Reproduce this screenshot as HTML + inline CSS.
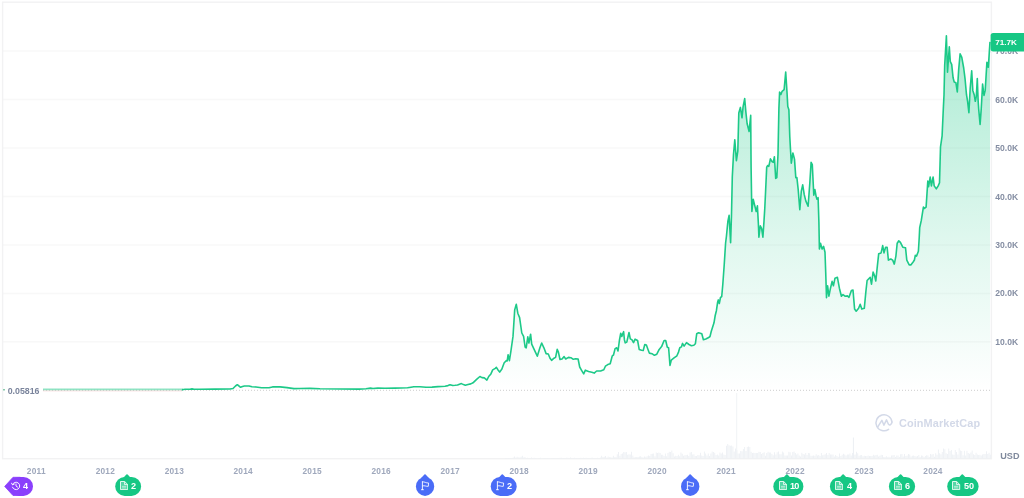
<!DOCTYPE html>
<html lang="en"><head><meta charset="utf-8"><title>BTC price chart</title>
<style>
html,body{margin:0;padding:0;background:#fff;}
body{width:1024px;height:498px;position:relative;overflow:hidden;font-family:"Liberation Sans",sans-serif;}
svg{position:absolute;left:0;top:0;display:block;}
.t{position:absolute;white-space:nowrap;line-height:1;font-weight:bold;}
.yl{color:#858EA3;font-size:8.6px;left:995.3px;}
.xl{color:#9FA8BC;font-size:8.3px;transform:translateX(-50%);letter-spacing:0.22px;margin-left:0.3px;}
.tag{position:absolute;left:990.6px;top:33px;width:34px;height:18.4px;}
.tag span{position:absolute;left:4.6px;top:6px;color:#fff;font-size:8.1px;font-weight:bold;line-height:1;}
.badge{position:absolute;top:476.9px;height:19px;border-radius:9.5px;color:#fff;font-size:8.3px;font-weight:bold;}
.badge .n{position:absolute;top:5.4px;line-height:1;transform:scaleX(1.1);transform-origin:0 50%;}
.badge svg{position:absolute;}
.green{background:#16C784;}
.blue{background:#4A6CF7;}
.purple{background:#8A3FFC;}
.ptr{position:absolute;top:-1.7px;width:5.4px;height:5.4px;transform:translateX(-50%) rotate(45deg);border-radius:1.3px 0 0 0;}
</style></head><body>
<svg width="1024" height="498" viewBox="0 0 1024 498">
<defs>
<linearGradient id="g" gradientUnits="userSpaceOnUse" x1="0" y1="35" x2="0" y2="390">
<stop offset="0" stop-color="#16C784" stop-opacity="0.36"/>
<stop offset="0.296" stop-color="#16C784" stop-opacity="0.245"/>
<stop offset="0.606" stop-color="#16C784" stop-opacity="0.125"/>
<stop offset="0.803" stop-color="#16C784" stop-opacity="0.065"/>
<stop offset="1" stop-color="#16C784" stop-opacity="0"/>
</linearGradient>
</defs>
<line x1="3" x2="991" y1="51.1" y2="51.1" stroke="#F8F8F8" stroke-width="1.5"/>
<line x1="3" x2="991" y1="99.5" y2="99.5" stroke="#F8F8F8" stroke-width="1.5"/>
<line x1="3" x2="991" y1="148" y2="148" stroke="#F8F8F8" stroke-width="1.5"/>
<line x1="3" x2="991" y1="196.5" y2="196.5" stroke="#F8F8F8" stroke-width="1.5"/>
<line x1="3" x2="991" y1="244.9" y2="244.9" stroke="#F8F8F8" stroke-width="1.5"/>
<line x1="3" x2="991" y1="293.4" y2="293.4" stroke="#F8F8F8" stroke-width="1.5"/>
<line x1="3" x2="991" y1="341.8" y2="341.8" stroke="#F8F8F8" stroke-width="1.5"/>
<rect x="2.6" y="2.2" width="988.8" height="456.5" fill="none" stroke="#F2F2F3" stroke-width="1.4"/>
<path d="M505 458.7 v-0.6 h0.9 v0.6 zM506.3 458.7 v-0.5 h0.9 v0.5 zM507.6 458.7 v-0.8 h0.9 v0.8 zM508.9 458.7 v-0.4 h0.9 v0.4 zM510.2 458.7 v-0.7 h0.9 v0.7 zM511.5 458.7 v-0.6 h0.9 v0.6 zM512.8 458.7 v-1.2 h0.9 v1.2 zM514.1 458.7 v-2.2 h0.9 v2.2 zM515.4 458.7 v-1.2 h0.9 v1.2 zM516.7 458.7 v-2 h0.9 v2 zM518 458.7 v-1.2 h0.9 v1.2 zM519.3 458.7 v-1.3 h0.9 v1.3 zM520.6 458.7 v-2 h0.9 v2 zM521.9 458.7 v-2.9 h0.9 v2.9 zM523.2 458.7 v-1.3 h0.9 v1.3 zM524.5 458.7 v-1.6 h0.9 v1.6 zM525.8 458.7 v-0.8 h0.9 v0.8 zM527.1 458.7 v-1 h0.9 v1 zM528.4 458.7 v-0.8 h0.9 v0.8 zM529.7 458.7 v-0.6 h0.9 v0.6 zM531 458.7 v-1.1 h0.9 v1.1 zM532.3 458.7 v-0.4 h0.9 v0.4 zM533.6 458.7 v-1 h0.9 v1 zM534.9 458.7 v-0.6 h0.9 v0.6 zM536.2 458.7 v-0.5 h0.9 v0.5 zM537.5 458.7 v-0.4 h0.9 v0.4 zM538.8 458.7 v-0.6 h0.9 v0.6 zM540.1 458.7 v-0.9 h0.9 v0.9 zM541.4 458.7 v-0.5 h0.9 v0.5 zM542.7 458.7 v-0.8 h0.9 v0.8 zM544 458.7 v-0.8 h0.9 v0.8 zM545.3 458.7 v-0.6 h0.9 v0.6 zM546.6 458.7 v-0.8 h0.9 v0.8 zM547.9 458.7 v-0.4 h0.9 v0.4 zM549.2 458.7 v-0.4 h0.9 v0.4 zM550.5 458.7 v-0.5 h0.9 v0.5 zM551.8 458.7 v-0.8 h0.9 v0.8 zM553.1 458.7 v-0.7 h0.9 v0.7 zM554.4 458.7 v-0.6 h0.9 v0.6 zM555.7 458.7 v-0.8 h0.9 v0.8 zM557 458.7 v-0.7 h0.9 v0.7 zM558.3 458.7 v-0.6 h0.9 v0.6 zM559.6 458.7 v-0.9 h0.9 v0.9 zM560.9 458.7 v-0.9 h0.9 v0.9 zM562.2 458.7 v-0.5 h0.9 v0.5 zM563.5 458.7 v-0.8 h0.9 v0.8 zM564.8 458.7 v-0.7 h0.9 v0.7 zM566.1 458.7 v-1 h0.9 v1 zM567.4 458.7 v-0.9 h0.9 v0.9 zM568.7 458.7 v-0.6 h0.9 v0.6 zM570 458.7 v-1.1 h0.9 v1.1 zM571.3 458.7 v-0.4 h0.9 v0.4 zM572.6 458.7 v-0.7 h0.9 v0.7 zM573.9 458.7 v-0.9 h0.9 v0.9 zM575.2 458.7 v-0.5 h0.9 v0.5 zM576.5 458.7 v-0.7 h0.9 v0.7 zM577.8 458.7 v-0.4 h0.9 v0.4 zM579.1 458.7 v-0.8 h0.9 v0.8 zM580.4 458.7 v-0.9 h0.9 v0.9 zM581.7 458.7 v-0.8 h0.9 v0.8 zM583 458.7 v-1 h0.9 v1 zM584.3 458.7 v-0.6 h0.9 v0.6 zM585.6 458.7 v-0.9 h0.9 v0.9 zM586.9 458.7 v-0.8 h0.9 v0.8 zM588.2 458.7 v-0.8 h0.9 v0.8 zM589.5 458.7 v-0.7 h0.9 v0.7 zM590.8 458.7 v-1 h0.9 v1 zM592.1 458.7 v-1 h0.9 v1 zM593.4 458.7 v-0.7 h0.9 v0.7 zM594.7 458.7 v-0.8 h0.9 v0.8 zM596 458.7 v-0.4 h0.9 v0.4 zM597.3 458.7 v-0.9 h0.9 v0.9 zM598.6 458.7 v-0.8 h0.9 v0.8 zM599.9 458.7 v-1.1 h0.9 v1.1 zM601.2 458.7 v-3 h0.9 v3 zM602.5 458.7 v-1.8 h0.9 v1.8 zM603.8 458.7 v-2 h0.9 v2 zM605.1 458.7 v-2.6 h0.9 v2.6 zM606.4 458.7 v-1.2 h0.9 v1.2 zM607.7 458.7 v-2.2 h0.9 v2.2 zM609 458.7 v-1.5 h0.9 v1.5 zM610.3 458.7 v-1.4 h0.9 v1.4 zM611.6 458.7 v-1.3 h0.9 v1.3 zM612.9 458.7 v-2.9 h0.9 v2.9 zM614.2 458.7 v-1.4 h0.9 v1.4 zM615.5 458.7 v-1.7 h0.9 v1.7 zM616.8 458.7 v-4.4 h0.9 v4.4 zM618.1 458.7 v-6.8 h0.9 v6.8 zM619.4 458.7 v-2.9 h0.9 v2.9 zM620.7 458.7 v-4.7 h0.9 v4.7 zM622 458.7 v-5.2 h0.9 v5.2 zM623.3 458.7 v-6.8 h0.9 v6.8 zM624.6 458.7 v-6.5 h0.9 v6.5 zM625.9 458.7 v-6.8 h0.9 v6.8 zM627.2 458.7 v-3.9 h0.9 v3.9 zM628.5 458.7 v-4.5 h0.9 v4.5 zM629.8 458.7 v-4.3 h0.9 v4.3 zM631.1 458.7 v-6.9 h0.9 v6.9 zM632.4 458.7 v-3.3 h0.9 v3.3 zM633.7 458.7 v-1.5 h0.9 v1.5 zM635 458.7 v-1.5 h0.9 v1.5 zM636.3 458.7 v-1.6 h0.9 v1.6 zM637.6 458.7 v-1.7 h0.9 v1.7 zM638.9 458.7 v-2.2 h0.9 v2.2 zM640.2 458.7 v-2.5 h0.9 v2.5 zM641.5 458.7 v-1.7 h0.9 v1.7 zM642.8 458.7 v-1.1 h0.9 v1.1 zM644.1 458.7 v-2.1 h0.9 v2.1 zM645.4 458.7 v-2 h0.9 v2 zM646.7 458.7 v-2.4 h0.9 v2.4 zM648 458.7 v-3.3 h0.9 v3.3 zM649.3 458.7 v-2.7 h0.9 v2.7 zM650.6 458.7 v-4.6 h0.9 v4.6 zM651.9 458.7 v-5 h0.9 v5 zM653.2 458.7 v-5.3 h0.9 v5.3 zM654.5 458.7 v-2.5 h0.9 v2.5 zM655.8 458.7 v-6.3 h0.9 v6.3 zM657.1 458.7 v-5.8 h0.9 v5.8 zM658.4 458.7 v-6.2 h0.9 v6.2 zM659.7 458.7 v-5.8 h0.9 v5.8 zM661 458.7 v-4 h0.9 v4 zM662.3 458.7 v-4 h0.9 v4 zM663.6 458.7 v-2.7 h0.9 v2.7 zM664.9 458.7 v-5.1 h0.9 v5.1 zM666.2 458.7 v-2.5 h0.9 v2.5 zM667.5 458.7 v-5.6 h0.9 v5.6 zM668.8 458.7 v-7 h0.9 v7 zM670.1 458.7 v-6.6 h0.9 v6.6 zM671.4 458.7 v-8.3 h0.9 v8.3 zM672.7 458.7 v-5.5 h0.9 v5.5 zM674 458.7 v-2.3 h0.9 v2.3 zM675.3 458.7 v-2.9 h0.9 v2.9 zM676.6 458.7 v-2.7 h0.9 v2.7 zM677.9 458.7 v-3.9 h0.9 v3.9 zM679.2 458.7 v-2.4 h0.9 v2.4 zM680.5 458.7 v-6.2 h0.9 v6.2 zM681.8 458.7 v-5 h0.9 v5 zM683.1 458.7 v-2.9 h0.9 v2.9 zM684.4 458.7 v-3.4 h0.9 v3.4 zM685.7 458.7 v-3.8 h0.9 v3.8 zM687 458.7 v-3.9 h0.9 v3.9 zM688.3 458.7 v-2.8 h0.9 v2.8 zM689.6 458.7 v-6.1 h0.9 v6.1 zM690.9 458.7 v-6.7 h0.9 v6.7 zM692.2 458.7 v-4.3 h0.9 v4.3 zM693.5 458.7 v-4.4 h0.9 v4.4 zM694.8 458.7 v-2.6 h0.9 v2.6 zM696.1 458.7 v-2.7 h0.9 v2.7 zM697.4 458.7 v-3.8 h0.9 v3.8 zM698.7 458.7 v-3.4 h0.9 v3.4 zM700 458.7 v-6 h0.9 v6 zM701.3 458.7 v-3.3 h0.9 v3.3 zM702.6 458.7 v-2.6 h0.9 v2.6 zM703.9 458.7 v-7.2 h0.9 v7.2 zM705.2 458.7 v-5.1 h0.9 v5.1 zM706.5 458.7 v-3.2 h0.9 v3.2 zM707.8 458.7 v-5.2 h0.9 v5.2 zM709.1 458.7 v-2.6 h0.9 v2.6 zM710.4 458.7 v-5.1 h0.9 v5.1 zM711.7 458.7 v-7.3 h0.9 v7.3 zM713 458.7 v-6.7 h0.9 v6.7 zM714.3 458.7 v-5.9 h0.9 v5.9 zM715.6 458.7 v-3.8 h0.9 v3.8 zM716.9 458.7 v-4.3 h0.9 v4.3 zM718.2 458.7 v-3.3 h0.9 v3.3 zM719.5 458.7 v-6.3 h0.9 v6.3 zM720.8 458.7 v-5.1 h0.9 v5.1 zM722.1 458.7 v-6.3 h0.9 v6.3 zM723.4 458.7 v-4.1 h0.9 v4.1 zM724.7 458.7 v-3.6 h0.9 v3.6 zM726 458.7 v-13 h0.9 v13 zM727.3 458.7 v-14.7 h0.9 v14.7 zM728.6 458.7 v-13.4 h0.9 v13.4 zM729.9 458.7 v-12.9 h0.9 v12.9 zM731.2 458.7 v-13.1 h0.9 v13.1 zM732.5 458.7 v-12.3 h0.9 v12.3 zM733.8 458.7 v-7.2 h0.9 v7.2 zM735.1 458.7 v-10.1 h0.9 v10.1 zM736.4 458.7 v-8.5 h0.9 v8.5 zM737.7 458.7 v-5.2 h0.9 v5.2 zM739 458.7 v-5.2 h0.9 v5.2 zM740.3 458.7 v-7.7 h0.9 v7.7 zM741.6 458.7 v-7.5 h0.9 v7.5 zM742.9 458.7 v-9.7 h0.9 v9.7 zM744.2 458.7 v-11.8 h0.9 v11.8 zM745.5 458.7 v-7.7 h0.9 v7.7 zM746.8 458.7 v-11.6 h0.9 v11.6 zM748.1 458.7 v-12.1 h0.9 v12.1 zM749.4 458.7 v-11.8 h0.9 v11.8 zM750.7 458.7 v-7 h0.9 v7 zM752 458.7 v-5.8 h0.9 v5.8 zM753.3 458.7 v-5.9 h0.9 v5.9 zM754.6 458.7 v-5.6 h0.9 v5.6 zM755.9 458.7 v-5.7 h0.9 v5.7 zM757.2 458.7 v-5.6 h0.9 v5.6 zM758.5 458.7 v-6.9 h0.9 v6.9 zM759.8 458.7 v-6.6 h0.9 v6.6 zM761.1 458.7 v-4.8 h0.9 v4.8 zM762.4 458.7 v-5.7 h0.9 v5.7 zM763.7 458.7 v-6.4 h0.9 v6.4 zM765 458.7 v-2.9 h0.9 v2.9 zM766.3 458.7 v-5.7 h0.9 v5.7 zM767.6 458.7 v-7 h0.9 v7 zM768.9 458.7 v-6.3 h0.9 v6.3 zM770.2 458.7 v-6.2 h0.9 v6.2 zM771.5 458.7 v-4.8 h0.9 v4.8 zM772.8 458.7 v-3.4 h0.9 v3.4 zM774.1 458.7 v-6.4 h0.9 v6.4 zM775.4 458.7 v-4.1 h0.9 v4.1 zM776.7 458.7 v-6.4 h0.9 v6.4 zM778 458.7 v-7.3 h0.9 v7.3 zM779.3 458.7 v-4.4 h0.9 v4.4 zM780.6 458.7 v-4.5 h0.9 v4.5 zM781.9 458.7 v-7.2 h0.9 v7.2 zM783.2 458.7 v-6.1 h0.9 v6.1 zM784.5 458.7 v-3.3 h0.9 v3.3 zM785.8 458.7 v-3.1 h0.9 v3.1 zM787.1 458.7 v-3.2 h0.9 v3.2 zM788.4 458.7 v-7 h0.9 v7 zM789.7 458.7 v-6.5 h0.9 v6.5 zM791 458.7 v-3.2 h0.9 v3.2 zM792.3 458.7 v-6.6 h0.9 v6.6 zM793.6 458.7 v-7.3 h0.9 v7.3 zM794.9 458.7 v-5.7 h0.9 v5.7 zM796.2 458.7 v-4.2 h0.9 v4.2 zM797.5 458.7 v-5.2 h0.9 v5.2 zM798.8 458.7 v-3.1 h0.9 v3.1 zM800.1 458.7 v-2.1 h0.9 v2.1 zM801.4 458.7 v-6 h0.9 v6 zM802.7 458.7 v-4.7 h0.9 v4.7 zM804 458.7 v-4.2 h0.9 v4.2 zM805.3 458.7 v-5.8 h0.9 v5.8 zM806.6 458.7 v-3.8 h0.9 v3.8 zM807.9 458.7 v-5.6 h0.9 v5.6 zM809.2 458.7 v-5.4 h0.9 v5.4 zM810.5 458.7 v-2.9 h0.9 v2.9 zM811.8 458.7 v-3 h0.9 v3 zM813.1 458.7 v-3.2 h0.9 v3.2 zM814.4 458.7 v-3 h0.9 v3 zM815.7 458.7 v-4.4 h0.9 v4.4 zM817 458.7 v-3.1 h0.9 v3.1 zM818.3 458.7 v-3.7 h0.9 v3.7 zM819.6 458.7 v-2.6 h0.9 v2.6 zM820.9 458.7 v-5.7 h0.9 v5.7 zM822.2 458.7 v-3.5 h0.9 v3.5 zM823.5 458.7 v-3.9 h0.9 v3.9 zM824.8 458.7 v-4.4 h0.9 v4.4 zM826.1 458.7 v-5.7 h0.9 v5.7 zM827.4 458.7 v-3.7 h0.9 v3.7 zM828.7 458.7 v-5.7 h0.9 v5.7 zM830 458.7 v-4.1 h0.9 v4.1 zM831.3 458.7 v-4.2 h0.9 v4.2 zM832.6 458.7 v-4.1 h0.9 v4.1 zM833.9 458.7 v-2.1 h0.9 v2.1 zM835.2 458.7 v-3.8 h0.9 v3.8 zM836.5 458.7 v-2.8 h0.9 v2.8 zM837.8 458.7 v-2 h0.9 v2 zM839.1 458.7 v-5.3 h0.9 v5.3 zM840.4 458.7 v-2.7 h0.9 v2.7 zM841.7 458.7 v-3.9 h0.9 v3.9 zM843 458.7 v-5 h0.9 v5 zM844.3 458.7 v-4.3 h0.9 v4.3 zM845.6 458.7 v-3.3 h0.9 v3.3 zM846.9 458.7 v-4.1 h0.9 v4.1 zM848.2 458.7 v-4.3 h0.9 v4.3 zM849.5 458.7 v-5.2 h0.9 v5.2 zM850.8 458.7 v-3.3 h0.9 v3.3 zM852.1 458.7 v-5.7 h0.9 v5.7 zM853.4 458.7 v-4 h0.9 v4 zM854.7 458.7 v-4.2 h0.9 v4.2 zM856 458.7 v-6.9 h0.9 v6.9 zM857.3 458.7 v-5.4 h0.9 v5.4 zM858.6 458.7 v-2.9 h0.9 v2.9 zM859.9 458.7 v-3.4 h0.9 v3.4 zM861.2 458.7 v-3.8 h0.9 v3.8 zM862.5 458.7 v-2.5 h0.9 v2.5 zM863.8 458.7 v-3 h0.9 v3 zM865.1 458.7 v-2.7 h0.9 v2.7 zM866.4 458.7 v-2.7 h0.9 v2.7 zM867.7 458.7 v-3.2 h0.9 v3.2 zM869 458.7 v-2.6 h0.9 v2.6 zM870.3 458.7 v-2.8 h0.9 v2.8 zM871.6 458.7 v-2.6 h0.9 v2.6 zM872.9 458.7 v-3.9 h0.9 v3.9 zM874.2 458.7 v-3.2 h0.9 v3.2 zM875.5 458.7 v-3.7 h0.9 v3.7 zM876.8 458.7 v-3.9 h0.9 v3.9 zM878.1 458.7 v-2.1 h0.9 v2.1 zM879.4 458.7 v-2.9 h0.9 v2.9 zM880.7 458.7 v-3.9 h0.9 v3.9 zM882 458.7 v-3.6 h0.9 v3.6 zM883.3 458.7 v-1.7 h0.9 v1.7 zM884.6 458.7 v-1.7 h0.9 v1.7 zM885.9 458.7 v-2.5 h0.9 v2.5 zM887.2 458.7 v-1.5 h0.9 v1.5 zM888.5 458.7 v-2 h0.9 v2 zM889.8 458.7 v-1.5 h0.9 v1.5 zM891.1 458.7 v-3.2 h0.9 v3.2 zM892.4 458.7 v-3.5 h0.9 v3.5 zM893.7 458.7 v-3.8 h0.9 v3.8 zM895 458.7 v-1.8 h0.9 v1.8 zM896.3 458.7 v-3.3 h0.9 v3.3 zM897.6 458.7 v-3.1 h0.9 v3.1 zM898.9 458.7 v-1.7 h0.9 v1.7 zM900.2 458.7 v-4.4 h0.9 v4.4 zM901.5 458.7 v-4.6 h0.9 v4.6 zM902.8 458.7 v-2.3 h0.9 v2.3 zM904.1 458.7 v-4.6 h0.9 v4.6 zM905.4 458.7 v-2.8 h0.9 v2.8 zM906.7 458.7 v-3.1 h0.9 v3.1 zM908 458.7 v-4.7 h0.9 v4.7 zM909.3 458.7 v-4.2 h0.9 v4.2 zM910.6 458.7 v-2.1 h0.9 v2.1 zM911.9 458.7 v-2.9 h0.9 v2.9 zM913.2 458.7 v-3.2 h0.9 v3.2 zM914.5 458.7 v-2.6 h0.9 v2.6 zM915.8 458.7 v-2.2 h0.9 v2.2 zM917.1 458.7 v-2.6 h0.9 v2.6 zM918.4 458.7 v-3.8 h0.9 v3.8 zM919.7 458.7 v-1.6 h0.9 v1.6 zM921 458.7 v-3.3 h0.9 v3.3 zM922.3 458.7 v-3 h0.9 v3 zM923.6 458.7 v-1.6 h0.9 v1.6 zM924.9 458.7 v-2.6 h0.9 v2.6 zM926.2 458.7 v-3.5 h0.9 v3.5 zM927.5 458.7 v-3.2 h0.9 v3.2 zM928.8 458.7 v-1.8 h0.9 v1.8 zM930.1 458.7 v-4.7 h0.9 v4.7 zM931.4 458.7 v-4.1 h0.9 v4.1 zM932.7 458.7 v-4.6 h0.9 v4.6 zM934 458.7 v-1.9 h0.9 v1.9 zM935.3 458.7 v-5.5 h0.9 v5.5 zM936.6 458.7 v-3.9 h0.9 v3.9 zM937.9 458.7 v-9.2 h0.9 v9.2 zM939.2 458.7 v-5.5 h0.9 v5.5 zM940.5 458.7 v-4.5 h0.9 v4.5 zM941.8 458.7 v-6.6 h0.9 v6.6 zM943.1 458.7 v-10.2 h0.9 v10.2 zM944.4 458.7 v-9.5 h0.9 v9.5 zM945.7 458.7 v-5.5 h0.9 v5.5 zM947 458.7 v-4.7 h0.9 v4.7 zM948.3 458.7 v-10.2 h0.9 v10.2 zM949.6 458.7 v-7.7 h0.9 v7.7 zM950.9 458.7 v-8.6 h0.9 v8.6 zM952.2 458.7 v-4.2 h0.9 v4.2 zM953.5 458.7 v-4 h0.9 v4 zM954.8 458.7 v-8.6 h0.9 v8.6 zM956.1 458.7 v-6.7 h0.9 v6.7 zM957.4 458.7 v-4.1 h0.9 v4.1 zM958.7 458.7 v-10.4 h0.9 v10.4 zM960 458.7 v-8.2 h0.9 v8.2 zM961.3 458.7 v-7.6 h0.9 v7.6 zM962.6 458.7 v-3.4 h0.9 v3.4 zM963.9 458.7 v-7.9 h0.9 v7.9 zM965.2 458.7 v-3.3 h0.9 v3.3 zM966.5 458.7 v-8 h0.9 v8 zM967.8 458.7 v-5.6 h0.9 v5.6 zM969.1 458.7 v-4.9 h0.9 v4.9 zM970.4 458.7 v-6.2 h0.9 v6.2 zM971.7 458.7 v-8.3 h0.9 v8.3 zM973 458.7 v-4.5 h0.9 v4.5 zM974.3 458.7 v-3.7 h0.9 v3.7 zM975.6 458.7 v-6 h0.9 v6 zM976.9 458.7 v-4.3 h0.9 v4.3 zM978.2 458.7 v-3.6 h0.9 v3.6 zM979.5 458.7 v-3.9 h0.9 v3.9 zM980.8 458.7 v-3.2 h0.9 v3.2 zM982.1 458.7 v-4.1 h0.9 v4.1 zM983.4 458.7 v-4.8 h0.9 v4.8 zM984.7 458.7 v-4.7 h0.9 v4.7 zM986 458.7 v-7.4 h0.9 v7.4 zM987.3 458.7 v-4.6 h0.9 v4.6 zM988.6 458.7 v-5.9 h0.9 v5.9 zM989.9 458.7 v-4 h0.9 v4 z" fill="#EDF0F4"/>
<rect x="736.2" y="393" width="1" height="65" fill="#F1F3F6"/>
<rect x="852.9" y="437.5" width="1" height="21" fill="#ECEFF3"/>
<line x1="182" x2="991" y1="390.3" y2="390.3" stroke="#CDCDCD" stroke-width="1" stroke-dasharray="1 2"/>
<path d="M42.6 389.8 L120 389.8 L182 389.7 L185 389.3 L190 389.2 L192 388.9 L194 389.2 L200 389.2 L215 389.1 L230 389 L233 388.5 L235.5 386 L237.3 384.7 L239 386 L240.5 387.3 L242.5 386.5 L244.4 386 L249 386 L252 386.8 L256 387 L261.6 387.8 L269 387.8 L272.5 386.9 L280 386.9 L287 387.6 L294 388.6 L300 388.5 L310 388.4 L320 388.8 L340 389 L359 389.1 L366 388.7 L370.5 388.1 L373 388.5 L377.8 388.1 L385 388.3 L395 388.1 L407.5 387.8 L411 387.2 L413.8 386.7 L420 386.7 L426 387.3 L432 387.1 L438 386.6 L445 386.2 L448 385.6 L450 384.7 L452.8 385.5 L455 385.3 L457.5 385 L459.5 384.2 L461.4 383.6 L463.5 384.6 L465.3 385.3 L468 384.6 L470.8 383.9 L473 382.8 L476.6 379.4 L479.9 376.5 L482 377.6 L484.3 377.9 L486.9 380.1 L488.7 376.5 L490.9 373.9 L492.7 369.9 L495.3 368.4 L496.4 367.3 L498 369.9 L499.7 372.1 L501.9 369 L504.2 362.8 L506.4 360.6 L507.2 361 L508.1 354.7 L509.4 360.6 L510.8 351.8 L513 336.4 L514.7 309.9 L516.3 304.3 L517.8 313.2 L519.6 317.6 L521.8 333 L523.6 336.4 L525.1 347 L526.2 347.8 L527.8 336.8 L528.9 343 L530.6 334.2 L531.7 344.1 L534 349.2 L537.3 356.2 L539.9 347.8 L541.7 343 L543.9 347.8 L546.1 353.6 L548.3 354 L550 358.2 L551.6 360.3 L554 358.2 L555.6 357.4 L557.2 349.4 L558.4 352.1 L560 359.5 L562 359 L564.1 356.6 L565.7 359 L568.5 357.4 L570.9 357.7 L573.3 359.3 L575.7 358.7 L578.1 359 L579.7 367 L581.3 369.8 L583.7 373.9 L585.3 370.2 L588.6 371.5 L591.8 372.3 L594.2 373.1 L596.6 371 L600.6 371 L603.8 369.8 L605.4 366.2 L607.8 364.6 L610.2 363.8 L612.3 355.8 L613.5 355 L615.1 348.6 L616.7 347.8 L618 351 L619.4 340.5 L620.7 333.3 L621.8 336.5 L622.6 334.1 L623.6 331.7 L624.4 339.7 L625.2 342.9 L626.8 342.1 L627.9 337.3 L629 332.5 L630.3 338.9 L631.9 339.7 L633.5 342.6 L635.1 339.2 L637.6 340.5 L639.2 349.4 L641.6 350.2 L643.2 350.5 L644.8 344.5 L646.4 345 L648 349.4 L649.3 353.1 L652 353.7 L654.4 355.3 L656.8 354.2 L659.2 349.4 L661.6 346.6 L664.1 340.5 L665.7 340.5 L667.3 347.3 L668.6 347.8 L670 365.4 L671.3 360.1 L673.7 358.2 L676.9 355.8 L678.5 352.1 L679.8 347.8 L681.4 346.9 L682.5 343.4 L684.1 346.1 L686.5 342.6 L689 344.5 L691.4 345.7 L693.8 345.3 L695.4 343.7 L696.7 333.8 L698.6 332.8 L701.8 333.8 L703.4 339.7 L705.8 338.9 L708.2 337.8 L710 336.5 L711.3 331.2 L712.8 326.4 L714 322.8 L715.2 315.5 L716.4 310.7 L717.6 302.3 L718.3 299.9 L719.3 303.5 L720.5 297.5 L721.7 296.7 L722.8 284.5 L724.2 265 L725.6 243 L726.4 236.5 L727.9 221.1 L729.1 215.4 L730.6 242.8 L731.5 214.6 L732.3 176.8 L733.5 154.3 L734.8 139.8 L736.4 160.7 L737.8 151.1 L738.8 113 L740.4 107.4 L742 117.8 L743.1 106.6 L744.7 98.6 L745.8 111.4 L747.1 123.5 L749.1 131.5 L750.7 115.4 L751.1 167.1 L751.6 199.3 L751.9 211.5 L753.2 199.3 L754.4 204.1 L756.2 211.5 L757.4 205.8 L758.4 224.3 L758.9 237.1 L760.3 225.9 L761.6 228.3 L762.9 237.1 L764 221.1 L764.8 208 L765.6 191.2 L766.7 167.1 L767.7 165.5 L768.8 166.3 L770.4 158.8 L772 161.5 L773.3 162.3 L774.4 156.7 L775.7 178.4 L776.8 177.6 L778 154.3 L778.9 108.2 L779.6 92.1 L780.9 94.5 L782.1 91.3 L784.1 89.7 L785.7 72 L787 92.1 L787.8 106.6 L788.9 109.8 L789.8 137 L790.5 149.5 L791.3 163.1 L792.9 153 L794.5 159.1 L795.8 177.6 L796.9 177.6 L798.2 189.6 L799.8 209.7 L801.3 191.2 L802.7 184.8 L804.2 194.4 L805.8 200.9 L808.1 206.2 L809.8 183.2 L811.1 162.3 L812.3 164.7 L813.8 195.2 L814.9 189.6 L816.2 196.8 L817 199.3 L818.1 197.7 L818.9 222 L819.4 249 L820.5 243.3 L822.1 249 L823.6 246.4 L825 252.2 L825.7 272 L826.5 297.8 L827.6 285.8 L828.9 296.2 L830.5 288.2 L832.1 281.4 L833.4 285.8 L835 278.2 L837.4 277.3 L839.4 288.2 L841.4 296.2 L843 294.6 L845 296.2 L847.4 295.9 L849 297.3 L851.4 290.6 L853 290.1 L854.6 309.1 L856.2 311.2 L858.6 308.3 L860.2 304.3 L861.8 309.1 L864.3 308.3 L865.9 291.4 L867.1 280.5 L870.2 277.3 L871.5 284.2 L873.1 272.1 L874.7 276.1 L875.8 281 L877.4 265.7 L878.7 253.7 L881.1 252.9 L882.7 245.6 L884 252.9 L885.6 247.2 L887.1 247.2 L888.4 260.1 L890.8 259 L892.7 260.1 L894.3 264.1 L895.9 256.1 L897.2 243.2 L898.8 240.8 L900.4 242.4 L902.8 247.2 L905.5 247.7 L906.8 260.1 L909.2 264.9 L910.8 264.9 L913.3 261.7 L914.4 260 L915.3 255.3 L916.5 256.1 L918.4 251.2 L919.2 238 L919.7 227.7 L921.3 220.4 L923.4 207.1 L924.5 208.4 L926.1 207.1 L927.8 181.1 L928.6 186.7 L930.2 177 L931.4 185.9 L933.1 177 L934.2 185.9 L936.3 188.8 L938.2 185.9 L939.5 182.7 L940 165 L940.5 147 L942.1 135.8 L943.3 109.1 L944 95 L944.7 65.1 L946.4 35.9 L947.5 72.2 L949.3 46.9 L950.3 61.6 L951.7 64.4 L953.1 77.8 L954.2 82 L955.9 82.7 L957.3 91.9 L958.7 69.4 L960.1 53.9 L961.8 57.4 L963.7 68 L965.1 79.2 L966.5 94.7 L967.6 101.3 L968.9 112.6 L970.2 88 L971.7 70.8 L972.8 90.4 L974.2 94.7 L975.3 101.3 L976.3 96.4 L977.3 78.5 L978.1 100 L978.7 109.1 L980.1 124.5 L981.2 109.1 L982.6 84 L984 95.4 L985.2 90.4 L986.9 62.3 L988.3 67.3 L989.2 53.9 L990 41.9 L990 390 L42.6 390 Z" fill="url(#g)"/>
<line x1="43" x2="182" y1="390.9" y2="390.9" stroke="#EA3943" stroke-width="1.1" stroke-opacity="0.13"/>
<line x1="43" x2="182" y1="390.3" y2="390.3" stroke="#B9A9B0" stroke-width="1" stroke-dasharray="1 2" stroke-opacity="0.5"/>
<line x1="43" x2="183" y1="389.45" y2="389.45" stroke="#16C784" stroke-width="1.7" stroke-opacity="0.48"/>
<path d="M182 389.7 L185 389.3 L190 389.2 L192 388.9 L194 389.2 L200 389.2 L215 389.1 L230 389 L233 388.5 L235.5 386 L237.3 384.7 L239 386 L240.5 387.3 L242.5 386.5 L244.4 386 L249 386 L252 386.8 L256 387 L261.6 387.8 L269 387.8 L272.5 386.9 L280 386.9 L287 387.6 L294 388.6 L300 388.5 L310 388.4 L320 388.8 L340 389 L359 389.1 L366 388.7 L370.5 388.1 L373 388.5 L377.8 388.1 L385 388.3 L395 388.1 L407.5 387.8 L411 387.2 L413.8 386.7 L420 386.7 L426 387.3 L432 387.1 L438 386.6 L445 386.2 L448 385.6 L450 384.7 L452.8 385.5 L455 385.3 L457.5 385 L459.5 384.2 L461.4 383.6 L463.5 384.6 L465.3 385.3 L468 384.6 L470.8 383.9 L473 382.8 L476.6 379.4 L479.9 376.5 L482 377.6 L484.3 377.9 L486.9 380.1 L488.7 376.5 L490.9 373.9 L492.7 369.9 L495.3 368.4 L496.4 367.3 L498 369.9 L499.7 372.1 L501.9 369 L504.2 362.8 L506.4 360.6 L507.2 361 L508.1 354.7 L509.4 360.6 L510.8 351.8 L513 336.4 L514.7 309.9 L516.3 304.3 L517.8 313.2 L519.6 317.6 L521.8 333 L523.6 336.4 L525.1 347 L526.2 347.8 L527.8 336.8 L528.9 343 L530.6 334.2 L531.7 344.1 L534 349.2 L537.3 356.2 L539.9 347.8 L541.7 343 L543.9 347.8 L546.1 353.6 L548.3 354 L550 358.2 L551.6 360.3 L554 358.2 L555.6 357.4 L557.2 349.4 L558.4 352.1 L560 359.5 L562 359 L564.1 356.6 L565.7 359 L568.5 357.4 L570.9 357.7 L573.3 359.3 L575.7 358.7 L578.1 359 L579.7 367 L581.3 369.8 L583.7 373.9 L585.3 370.2 L588.6 371.5 L591.8 372.3 L594.2 373.1 L596.6 371 L600.6 371 L603.8 369.8 L605.4 366.2 L607.8 364.6 L610.2 363.8 L612.3 355.8 L613.5 355 L615.1 348.6 L616.7 347.8 L618 351 L619.4 340.5 L620.7 333.3 L621.8 336.5 L622.6 334.1 L623.6 331.7 L624.4 339.7 L625.2 342.9 L626.8 342.1 L627.9 337.3 L629 332.5 L630.3 338.9 L631.9 339.7 L633.5 342.6 L635.1 339.2 L637.6 340.5 L639.2 349.4 L641.6 350.2 L643.2 350.5 L644.8 344.5 L646.4 345 L648 349.4 L649.3 353.1 L652 353.7 L654.4 355.3 L656.8 354.2 L659.2 349.4 L661.6 346.6 L664.1 340.5 L665.7 340.5 L667.3 347.3 L668.6 347.8 L670 365.4 L671.3 360.1 L673.7 358.2 L676.9 355.8 L678.5 352.1 L679.8 347.8 L681.4 346.9 L682.5 343.4 L684.1 346.1 L686.5 342.6 L689 344.5 L691.4 345.7 L693.8 345.3 L695.4 343.7 L696.7 333.8 L698.6 332.8 L701.8 333.8 L703.4 339.7 L705.8 338.9 L708.2 337.8 L710 336.5 L711.3 331.2 L712.8 326.4 L714 322.8 L715.2 315.5 L716.4 310.7 L717.6 302.3 L718.3 299.9 L719.3 303.5 L720.5 297.5 L721.7 296.7 L722.8 284.5 L724.2 265 L725.6 243 L726.4 236.5 L727.9 221.1 L729.1 215.4 L730.6 242.8 L731.5 214.6 L732.3 176.8 L733.5 154.3 L734.8 139.8 L736.4 160.7 L737.8 151.1 L738.8 113 L740.4 107.4 L742 117.8 L743.1 106.6 L744.7 98.6 L745.8 111.4 L747.1 123.5 L749.1 131.5 L750.7 115.4 L751.1 167.1 L751.6 199.3 L751.9 211.5 L753.2 199.3 L754.4 204.1 L756.2 211.5 L757.4 205.8 L758.4 224.3 L758.9 237.1 L760.3 225.9 L761.6 228.3 L762.9 237.1 L764 221.1 L764.8 208 L765.6 191.2 L766.7 167.1 L767.7 165.5 L768.8 166.3 L770.4 158.8 L772 161.5 L773.3 162.3 L774.4 156.7 L775.7 178.4 L776.8 177.6 L778 154.3 L778.9 108.2 L779.6 92.1 L780.9 94.5 L782.1 91.3 L784.1 89.7 L785.7 72 L787 92.1 L787.8 106.6 L788.9 109.8 L789.8 137 L790.5 149.5 L791.3 163.1 L792.9 153 L794.5 159.1 L795.8 177.6 L796.9 177.6 L798.2 189.6 L799.8 209.7 L801.3 191.2 L802.7 184.8 L804.2 194.4 L805.8 200.9 L808.1 206.2 L809.8 183.2 L811.1 162.3 L812.3 164.7 L813.8 195.2 L814.9 189.6 L816.2 196.8 L817 199.3 L818.1 197.7 L818.9 222 L819.4 249 L820.5 243.3 L822.1 249 L823.6 246.4 L825 252.2 L825.7 272 L826.5 297.8 L827.6 285.8 L828.9 296.2 L830.5 288.2 L832.1 281.4 L833.4 285.8 L835 278.2 L837.4 277.3 L839.4 288.2 L841.4 296.2 L843 294.6 L845 296.2 L847.4 295.9 L849 297.3 L851.4 290.6 L853 290.1 L854.6 309.1 L856.2 311.2 L858.6 308.3 L860.2 304.3 L861.8 309.1 L864.3 308.3 L865.9 291.4 L867.1 280.5 L870.2 277.3 L871.5 284.2 L873.1 272.1 L874.7 276.1 L875.8 281 L877.4 265.7 L878.7 253.7 L881.1 252.9 L882.7 245.6 L884 252.9 L885.6 247.2 L887.1 247.2 L888.4 260.1 L890.8 259 L892.7 260.1 L894.3 264.1 L895.9 256.1 L897.2 243.2 L898.8 240.8 L900.4 242.4 L902.8 247.2 L905.5 247.7 L906.8 260.1 L909.2 264.9 L910.8 264.9 L913.3 261.7 L914.4 260 L915.3 255.3 L916.5 256.1 L918.4 251.2 L919.2 238 L919.7 227.7 L921.3 220.4 L923.4 207.1 L924.5 208.4 L926.1 207.1 L927.8 181.1 L928.6 186.7 L930.2 177 L931.4 185.9 L933.1 177 L934.2 185.9 L936.3 188.8 L938.2 185.9 L939.5 182.7 L940 165 L940.5 147 L942.1 135.8 L943.3 109.1 L944 95 L944.7 65.1 L946.4 35.9 L947.5 72.2 L949.3 46.9 L950.3 61.6 L951.7 64.4 L953.1 77.8 L954.2 82 L955.9 82.7 L957.3 91.9 L958.7 69.4 L960.1 53.9 L961.8 57.4 L963.7 68 L965.1 79.2 L966.5 94.7 L967.6 101.3 L968.9 112.6 L970.2 88 L971.7 70.8 L972.8 90.4 L974.2 94.7 L975.3 101.3 L976.3 96.4 L977.3 78.5 L978.1 100 L978.7 109.1 L980.1 124.5 L981.2 109.1 L982.6 84 L984 95.4 L985.2 90.4 L986.9 62.3 L988.3 67.3 L989.2 53.9 L990 41.9" fill="none" stroke="#16C784" stroke-width="1.6" stroke-opacity="0.97" stroke-linejoin="round" stroke-linecap="butt"/>
<rect x="3" y="389.2" width="2" height="1.2" fill="#6BBF9A"/>
</svg>
<div class="t yl" style="top:47.1px">70.0K</div>
<div class="t yl" style="top:95.5px">60.0K</div>
<div class="t yl" style="top:144px">50.0K</div>
<div class="t yl" style="top:192.5px">40.0K</div>
<div class="t yl" style="top:240.9px">30.0K</div>
<div class="t yl" style="top:289.4px">20.0K</div>
<div class="t yl" style="top:337.8px">10.0K</div>
<svg style="left:988px;top:30px" width="36" height="24" viewBox="988 30 36 24"><rect x="990.6" y="33" width="40" height="18.4" rx="2.6" fill="#16C784"/></svg>
<div class="tag"><span>71.7K</span></div>
<div class="t" style="left:1000.3px;top:452.1px;color:#808A9D;font-size:9.1px">USD</div>
<div class="t" style="left:5.5px;top:384px;width:36.5px;height:12px;background:#fff"></div>
<div class="t" style="left:7.7px;top:386.7px;color:#7A849C;font-size:8.8px">0.05816</div>
<div class="t xl" style="left:36px;top:467px">2011</div>
<div class="t xl" style="left:105px;top:467px">2012</div>
<div class="t xl" style="left:174px;top:467px">2013</div>
<div class="t xl" style="left:242.9px;top:467px">2014</div>
<div class="t xl" style="left:311.9px;top:467px">2015</div>
<div class="t xl" style="left:380.9px;top:467px">2016</div>
<div class="t xl" style="left:449.9px;top:467px">2017</div>
<div class="t xl" style="left:518.9px;top:467px">2018</div>
<div class="t xl" style="left:587.8px;top:467px">2019</div>
<div class="t xl" style="left:656.8px;top:467px">2020</div>
<div class="t xl" style="left:725.8px;top:467px">2021</div>
<div class="t xl" style="left:794.8px;top:467px">2022</div>
<div class="t xl" style="left:863.8px;top:467px">2023</div>
<div class="t xl" style="left:932.7px;top:467px">2024</div>
<svg style="left:874px;top:413px" width="20" height="20" viewBox="0 0 20 20"><g fill="none" stroke="#D3D9E8" stroke-width="1.5" stroke-linecap="round" stroke-linejoin="round"><path d="M17.97 9.1 A8 8 0 1 0 14.6 16.35"/><path d="M3.9 13.6 L7.9 7.3 L9.9 12.2 L12.5 6.9 L14.4 11.2 C15.2 12.6 17.6 12 17.97 9.1"/></g></svg>
<div class="t" style="left:899px;top:417.6px;color:#D3D9E8;font-size:10.9px;letter-spacing:0.1px">CoinMarketCap</div>
<svg width="1024" height="30" viewBox="0 468 1024 30" style="left:0;top:468px"><rect x="9.4" y="476.9" width="23.6" height="19" rx="9.5" fill="#8A3FFC"/><path d="M13 477.3 L4.7 486.4 L13 495.5 H20.4 V477.3 Z" fill="#8A3FFC" stroke="#8A3FFC" stroke-width="0.8" stroke-linejoin="round"/><rect x="115.2" y="476.9" width="25.9" height="19" rx="9.5" fill="#16C784"/><path d="M123.1 477.9 L126.4 474.6 Q127 474 127.6 474.6 L130.9 477.9 Z" fill="#16C784"/><rect x="415.9" y="476.9" width="18.3" height="19" rx="9.5" fill="#4A6CF7"/><path d="M421.1 477.9 L424.4 474.6 Q425 474 425.6 474.6 L428.9 477.9 Z" fill="#4A6CF7"/><rect x="490.7" y="476.9" width="26" height="19" rx="9.5" fill="#4A6CF7"/><path d="M498.4 477.9 L501.7 474.6 Q502.3 474 502.9 474.6 L506.2 477.9 Z" fill="#4A6CF7"/><rect x="681" y="476.9" width="18.4" height="19" rx="9.5" fill="#4A6CF7"/><path d="M686.2 477.9 L689.5 474.6 Q690.1 474 690.7 474.6 L694 477.9 Z" fill="#4A6CF7"/><rect x="773.3" y="476.9" width="30.1" height="19" rx="9.5" fill="#16C784"/><path d="M783 477.9 L786.3 474.6 Q786.9 474 787.5 474.6 L790.8 477.9 Z" fill="#16C784"/><rect x="829.9" y="476.9" width="27.1" height="19" rx="9.5" fill="#16C784"/><path d="M839.2 477.9 L842.5 474.6 Q843.1 474 843.7 474.6 L847 477.9 Z" fill="#16C784"/><rect x="888.9" y="476.9" width="26.2" height="19" rx="9.5" fill="#16C784"/><path d="M896.7 477.9 L900 474.6 Q900.6 474 901.2 474.6 L904.5 477.9 Z" fill="#16C784"/><rect x="947.2" y="476.9" width="31.4" height="19" rx="9.5" fill="#16C784"/><path d="M958.4 477.9 L961.7 474.6 Q962.3 474 962.9 474.6 L966.2 477.9 Z" fill="#16C784"/></svg>
<div class="badge" style="left:8.4px;width:24.6px"><svg style="left:2.5px;top:4.6px" width="10" height="10" viewBox="0 0 10 10"><path d="M1.6 3.4 A3.7 3.7 0 1 1 1.5 6.2" fill="none" stroke="#fff" stroke-width="0.95" stroke-linecap="round"/><path d="M0.5 2.1 L1.5 3.9 L3.3 3.1" fill="none" stroke="#fff" stroke-width="0.9" stroke-linecap="round" stroke-linejoin="round"/><path d="M5 2.9 V5 L6.6 6.1" fill="none" stroke="#fff" stroke-width="0.9" stroke-linecap="round" stroke-linejoin="round"/></svg><span class="n" style="left:14.6px;">4</span></div>
<div class="badge" style="left:115.2px;width:25.9px"><svg style="left:4.9px;top:4.1px" width="8.2" height="9.1" viewBox="0 0 8.2 9.1"><path d="M0.5 0.5 H4.7 L7.7 3.5 V8.6 H0.5 Z" fill="#fff" fill-opacity="0.28" stroke="#fff" stroke-width="0.85" stroke-linejoin="round"/><path d="M4.6 0.7 V3.6 H7.5" fill="none" stroke="#fff" stroke-width="0.8" stroke-linejoin="round"/><path d="M2 5.4 H6.2 M2 6.9 H6.2" stroke="#fff" stroke-width="0.7" opacity="0.75"/></svg><span class="n" style="left:16px;">2</span></div>
<div class="badge" style="left:415.9px;width:18.3px"><svg style="left:4.7px;top:4.3px" width="9" height="10" viewBox="0 0 9 10"><path d="M1.4 0.6 V8.6 M0.5 8.7 H2.4" stroke="#fff" stroke-width="0.9" stroke-linecap="round" fill="none"/><path d="M1.6 0.9 C3.4 0.4 5 2.2 7.6 2 L7.3 5.3 C5 5.6 3.6 4.2 1.6 4.9" fill="none" stroke="#fff" stroke-width="0.85" stroke-linejoin="round" stroke-linecap="round"/></svg></div>
<div class="badge" style="left:490.7px;width:26px"><svg style="left:5px;top:4.3px" width="9" height="10" viewBox="0 0 9 10"><path d="M1.4 0.6 V8.6 M0.5 8.7 H2.4" stroke="#fff" stroke-width="0.9" stroke-linecap="round" fill="none"/><path d="M1.6 0.9 C3.4 0.4 5 2.2 7.6 2 L7.3 5.3 C5 5.6 3.6 4.2 1.6 4.9" fill="none" stroke="#fff" stroke-width="0.85" stroke-linejoin="round" stroke-linecap="round"/></svg><span class="n" style="left:16.3px;">2</span></div>
<div class="badge" style="left:681px;width:18.4px"><svg style="left:4.7px;top:4.3px" width="9" height="10" viewBox="0 0 9 10"><path d="M1.4 0.6 V8.6 M0.5 8.7 H2.4" stroke="#fff" stroke-width="0.9" stroke-linecap="round" fill="none"/><path d="M1.6 0.9 C3.4 0.4 5 2.2 7.6 2 L7.3 5.3 C5 5.6 3.6 4.2 1.6 4.9" fill="none" stroke="#fff" stroke-width="0.85" stroke-linejoin="round" stroke-linecap="round"/></svg></div>
<div class="badge" style="left:773.3px;width:30.1px"><svg style="left:5.3px;top:4.1px" width="8.2" height="9.1" viewBox="0 0 8.2 9.1"><path d="M0.5 0.5 H4.7 L7.7 3.5 V8.6 H0.5 Z" fill="#fff" fill-opacity="0.28" stroke="#fff" stroke-width="0.85" stroke-linejoin="round"/><path d="M4.6 0.7 V3.6 H7.5" fill="none" stroke="#fff" stroke-width="0.8" stroke-linejoin="round"/><path d="M2 5.4 H6.2 M2 6.9 H6.2" stroke="#fff" stroke-width="0.7" opacity="0.75"/></svg><span class="n" style="left:16.3px;letter-spacing:-0.7px">10</span></div>
<div class="badge" style="left:829.9px;width:27.1px"><svg style="left:5.3px;top:4.1px" width="8.2" height="9.1" viewBox="0 0 8.2 9.1"><path d="M0.5 0.5 H4.7 L7.7 3.5 V8.6 H0.5 Z" fill="#fff" fill-opacity="0.28" stroke="#fff" stroke-width="0.85" stroke-linejoin="round"/><path d="M4.6 0.7 V3.6 H7.5" fill="none" stroke="#fff" stroke-width="0.8" stroke-linejoin="round"/><path d="M2 5.4 H6.2 M2 6.9 H6.2" stroke="#fff" stroke-width="0.7" opacity="0.75"/></svg><span class="n" style="left:16.9px;">4</span></div>
<div class="badge" style="left:888.9px;width:26.2px"><svg style="left:5.1px;top:4.1px" width="8.2" height="9.1" viewBox="0 0 8.2 9.1"><path d="M0.5 0.5 H4.7 L7.7 3.5 V8.6 H0.5 Z" fill="#fff" fill-opacity="0.28" stroke="#fff" stroke-width="0.85" stroke-linejoin="round"/><path d="M4.6 0.7 V3.6 H7.5" fill="none" stroke="#fff" stroke-width="0.8" stroke-linejoin="round"/><path d="M2 5.4 H6.2 M2 6.9 H6.2" stroke="#fff" stroke-width="0.7" opacity="0.75"/></svg><span class="n" style="left:16.6px;">6</span></div>
<div class="badge" style="left:947.2px;width:31.4px"><svg style="left:5.2px;top:4.1px" width="8.2" height="9.1" viewBox="0 0 8.2 9.1"><path d="M0.5 0.5 H4.7 L7.7 3.5 V8.6 H0.5 Z" fill="#fff" fill-opacity="0.28" stroke="#fff" stroke-width="0.85" stroke-linejoin="round"/><path d="M4.6 0.7 V3.6 H7.5" fill="none" stroke="#fff" stroke-width="0.8" stroke-linejoin="round"/><path d="M2 5.4 H6.2 M2 6.9 H6.2" stroke="#fff" stroke-width="0.7" opacity="0.75"/></svg><span class="n" style="left:17px;">50</span></div>
</body></html>
